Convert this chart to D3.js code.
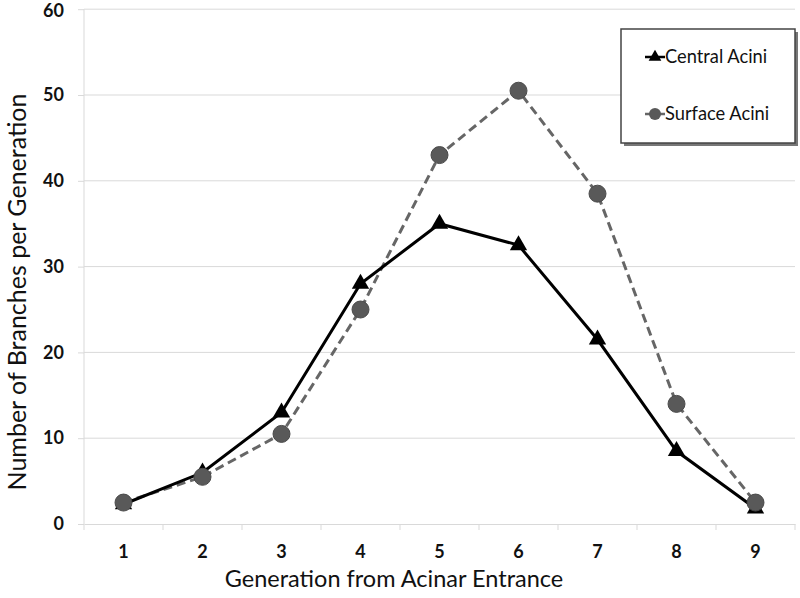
<!DOCTYPE html>
<html><head><meta charset="utf-8">
<script src="https://cdn.jsdelivr.net/npm/d3@7"></script>
<style>body{margin:0;background:#fff;} svg{display:block;font-family:Lato,"Open Sans",sans-serif;}</style>
</head><body>
<svg id="c" width="800" height="598"></svg>
<script>
const categories = ["1","2","3","4","5","6","7","8","9"];
const centralAcini = [2.3, 6, 13, 28, 35, 32.5, 21.5, 8.5, 1.8];
const surfaceAcini = [2.5, 5.5, 10.5, 25, 43, 50.5, 38.5, 14, 2.5];
const yTicks = [0, 10, 20, 30, 40, 50, 60];
const seriesNames = ["Central Acini", "Surface Acini"];

const svg = d3.select("#c");
const L = 84, R = 795, T = 9.2, B = 524;
const x = d3.scaleBand().domain(categories).range([L, R]);
const y = d3.scaleLinear().domain([0, 60]).range([B, T]);

// gridlines
svg.append("g").selectAll("line").data(yTicks.filter(d => d > 0)).join("line")
  .attr("x1", L).attr("x2", R).attr("y1", d => y(d)).attr("y2", d => y(d))
  .attr("stroke", "#d9d9d9").attr("stroke-width", 1);

// y axis
const ya = svg.append("g").attr("transform", `translate(${L},0)`)
  .call(d3.axisLeft(y).tickValues(yTicks).tickSize(6).tickPadding(14));
ya.select(".domain").attr("stroke", "#d9d9d9").attr("d", `M0,${B}V${T}`);
ya.selectAll(".tick line").attr("stroke", "#d9d9d9");
ya.selectAll("text").attr("font-size", 18).attr("font-weight", "bold").attr("fill", "#111")
  .attr("font-family", "Lato, sans-serif");
ya.selectAll(".tick").filter(d => d === 60).select("text").attr("dy", "0.40em");

// x axis
const xa = svg.append("g").attr("transform", `translate(0,${B})`)
  .call(d3.axisBottom(x).tickSizeOuter(0).tickSize(0).tickPadding(21));
xa.select(".domain").attr("stroke", "#d9d9d9");
xa.selectAll("text").attr("font-size", 18).attr("font-weight", "bold").attr("fill", "#111")
  .attr("font-family", "Lato, sans-serif");
// boundary ticks
const bounds = categories.map(c => x(c)).concat([x(categories[categories.length-1]) + x.bandwidth()]);
xa.append("g").selectAll("line").data(bounds).join("line")
  .attr("x1", d => d).attr("x2", d => d).attr("y1", 0).attr("y2", 6)
  .attr("stroke", "#d9d9d9");

const cx = d => x(d) + x.bandwidth() / 2;
const line = d3.line().x((d, i) => cx(categories[i])).y(d => y(d));

// surface (dashed)
svg.append("path").datum(surfaceAcini).attr("d", line)
  .attr("fill", "none").attr("stroke", "#666").attr("stroke-width", 3).attr("stroke-dasharray", "9,5");
// central (solid)
svg.append("path").datum(centralAcini).attr("d", line)
  .attr("fill", "none").attr("stroke", "#000").attr("stroke-width", 3);

const tri = d3.symbol().type(d3.symbolTriangle).size(130);
svg.append("g").selectAll("path").data(centralAcini).join("path")
  .attr("d", tri).attr("fill", "#000")
  .attr("transform", (d, i) => `translate(${cx(categories[i])},${y(d)})`);
svg.append("g").selectAll("circle").data(surfaceAcini).join("circle")
  .attr("cx", (d, i) => cx(categories[i])).attr("cy", d => y(d)).attr("r", 8.5)
  .attr("fill", "#595959").attr("stroke", "#4a4a4a").attr("stroke-width", 1);

// legend
const lg = svg.append("g");
lg.append("rect").attr("x", 624).attr("y", 32).attr("width", 174).attr("height", 114).attr("fill", "#777");
lg.append("rect").attr("x", 621).attr("y", 29).attr("width", 174).attr("height", 114)
  .attr("fill", "#fff").attr("stroke", "#444").attr("stroke-width", 1.5);
const ly = [57, 114];
seriesNames.forEach((n, i) => {
  const g = lg.append("g").attr("transform", `translate(655,${ly[i]})`);
  if (i === 0) {
    g.append("line").attr("x1", -10).attr("x2", 10).attr("stroke", "#000").attr("stroke-width", 2.5);
    g.append("path").attr("d", d3.symbol().type(d3.symbolTriangle).size(70)).attr("fill", "#000");
  } else {
    g.append("line").attr("x1", -10).attr("x2", 10).attr("stroke", "#666").attr("stroke-width", 2.5);
    g.append("circle").attr("r", 6).attr("fill", "#595959");
  }
  g.append("text").attr("x", 10).attr("y", 6).attr("font-size", 18.3).attr("fill", "#111").text(n);
});

// titles
svg.append("text").attr("x", 394).attr("y", 587).attr("text-anchor", "middle")
  .attr("font-size", 23.5).attr("fill", "#111").text("Generation from Acinar Entrance");
svg.append("text").attr("transform", "translate(26,292) rotate(-90)").attr("text-anchor", "middle")
  .attr("font-size", 25).attr("fill", "#111").text("Number of Branches per Generation");
</script>
</body></html>
